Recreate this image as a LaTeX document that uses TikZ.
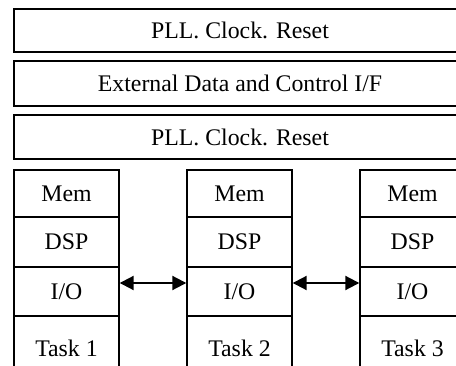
\documentclass[tikz,border=0pt]{standalone}
\usepackage{fontspec}
\setmainfont{Liberation Serif}
\usetikzlibrary{arrows.meta}
\begin{document}
\begin{tikzpicture}[x=1pt,y=-1pt]
        \tikzstyle{bar}=[draw=black,line width=1.6pt,minimum width=452pt,minimum height=43pt,inner sep=0pt,font=\fontsize{23.8}{26}\selectfont]
        \tikzstyle{cell}=[draw=black,line width=1.4pt,minimum width=105pt,inner sep=0pt,font=\fontsize{23.8}{26}\selectfont]
        \tikzstyle{link}=[line width=2pt,{Triangle[length=14pt,width=14pt]}-{Triangle[length=14pt,width=14pt]}]
        \useasboundingbox (0,0) rectangle (456,366);
        \clip (0,0) rectangle (456,366);

        \node[bar] (pll1) at (240,30.5) {PLL. Clock. Reset};
        \node[bar,minimum height=45pt] (ext) at (240,83.5) {External Data and Control I/F};
        \node[bar,minimum height=44pt] (pll2) at (240,137) {PLL. Clock. Reset};

        \node[cell,minimum height=47pt] (mem1) at (66.5,193.5) {Mem};
        \node[cell,minimum height=50pt] (dsp1) at (66.5,242) {DSP};
        \node[cell,minimum height=49pt] (io1) at (66.5,291.5) {I/O};
        \node[cell,minimum height=64pt] (task1) at (66.5,348) {Task 1};

        \node[cell,minimum height=47pt] (mem2) at (239.5,193.5) {Mem};
        \node[cell,minimum height=50pt] (dsp2) at (239.5,242) {DSP};
        \node[cell,minimum height=49pt] (io2) at (239.5,291.5) {I/O};
        \node[cell,minimum height=64pt] (task2) at (239.5,348) {Task 2};

        \node[cell,minimum height=47pt] (mem3) at (412.5,193.5) {Mem};
        \node[cell,minimum height=50pt] (dsp3) at (412.5,242) {DSP};
        \node[cell,minimum height=49pt] (io3) at (412.5,291.5) {I/O};
        \node[cell,minimum height=64pt] (task3) at (412.5,348) {Task 3};

        \draw[link] ([yshift=8.5pt]io1.east) -- ([yshift=8.5pt]io2.west);
        \draw[link] ([yshift=8.5pt]io2.east) -- ([yshift=8.5pt]io3.west);
    \end{tikzpicture}
\end{document}
